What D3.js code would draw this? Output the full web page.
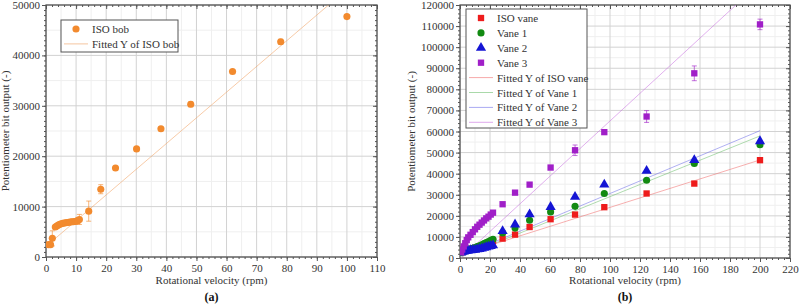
<!DOCTYPE html>
<html>
<head>
<meta charset="utf-8">
<script src="https://cdn.jsdelivr.net/npm/d3@7.8.5/dist/d3.min.js"></script>
<style>
  body { margin: 0; background: #fff; }
  svg { font-family: "Liberation Serif", "DejaVu Serif", serif; }
</style>
</head>
<body>
<svg id="chart" width="800" height="304"></svg>
<script>
// ---- panel (a): ISO bob ----
const bobRpm = [0.8, 1.5, 2.1, 3.1, 3.6, 4.1, 4.6, 5.1, 5.6, 6.1, 6.6, 7.1, 7.6, 8.1, 8.6, 9.1, 9.6, 10.1, 10.6, 11.1, 14.2, 18.2, 23.1, 30.1, 38.2, 48.1, 62, 78, 100]
const bobValue = [2450, 2450, 3700, 5950, 6150, 6350, 6500, 6600, 6700, 6750, 6800, 6850, 6900, 6950, 7000, 7000, 7050, 7100, 7250, 7450, 9100, 13450, 17650, 21450, 25450, 30300, 36800, 42700, 47700]
const bobErr = [300, 300, 1500, 300, 200, 200, 200, 200, 200, 200, 200, 200, 200, 200, 200, 200, 200, 300, 600, 1000, 2000, 900, 400, 400, 300, 500, 400, 500, 400]
const bobFit = {slope: 510, intercept: 2110}

const xTicksA = [0, 10, 20, 30, 40, 50, 60, 70, 80, 90, 100, 110]
const yTicksA = [0, 10000, 20000, 30000, 40000, 50000]

// ---- panel (b): vanes ----
const vaneRpm = [0.7, 1.5, 2.5, 3.5, 4.5, 5.5, 7, 8.5, 10, 11.5, 13, 14.5, 16, 17.5, 19, 20.5, 22, 28.4, 36.7, 46.4, 60.4, 76.7, 96.2, 124.4, 156.2, 200]
const isoVane = [2700, 3000, 3300, 3500, 3700, 3900, 4200, 4500, 4800, 5100, 5500, 5900, 6300, 6700, 7100, 7500, 8000, 9200, 11100, 14700, 18400, 20600, 24100, 30600, 35300, 46400]
const vane1 = [2800, 3100, 3400, 3600, 3800, 4000, 4300, 4600, 5000, 5400, 5800, 6300, 6800, 7300, 7800, 8400, 8900, 11900, 14200, 17900, 21800, 24500, 30600, 36900, 44800, 53700]
const vane2 = [2600, 2900, 3100, 3300, 3400, 3500, 3700, 3800, 3900, 4100, 4300, 4500, 4800, 5100, 5400, 5700, 6000, 12800, 15900, 20700, 24200, 29000, 34800, 41300, 46400, 55400]
const vane3 = [2800, 4000, 5500, 7000, 8500, 9800, 11000, 12300, 13600, 14800, 15800, 16800, 17800, 18800, 19600, 20600, 21500, 25500, 31000, 34800, 42900, 51100, 59700, 67100, 87600, 110800]
const vane3Err = [200, 200, 200, 200, 200, 200, 200, 200, 200, 200, 200, 200, 200, 200, 200, 200, 300, 500, 600, 600, 800, 2500, 1000, 2800, 3500, 2500]
const vaneFits = [
  {slope: 225, intercept: 1500},
  {slope: 288, intercept: 300},
  {slope: 298, intercept: 800},
  {slope: 655, intercept: -500}
]
const vaneNames = ["ISO vane", "Vane 1", "Vane 2", "Vane 3"]

const xTicksB = d3.range(0, 221, 20)
const yTicksB = d3.range(0, 120001, 10000)

const svg = d3.select("#chart")
const axisColor = "#555"

function drawPanel(opt) {
  const g = svg.append("g")
  const x = d3.scaleLinear().domain(opt.xDomain).range([opt.left, opt.right])
  const y = d3.scaleLinear().domain(opt.yDomain).range([opt.bottom, opt.top])

  // minor + major grid
  g.append("g").selectAll("line").data(opt.xMinorGrid).join("line")
    .attr("x1", d => x(d)).attr("x2", d => x(d)).attr("y1", opt.top).attr("y2", opt.bottom)
    .attr("stroke", "#efefef")
  g.append("g").selectAll("line").data(opt.yMinorGrid).join("line")
    .attr("y1", d => y(d)).attr("y2", d => y(d)).attr("x1", opt.left).attr("x2", opt.right)
    .attr("stroke", "#efefef")
  g.append("g").selectAll("line").data(opt.xTicks).join("line")
    .attr("x1", d => x(d)).attr("x2", d => x(d)).attr("y1", opt.top).attr("y2", opt.bottom)
    .attr("stroke", "#d2d2d2")
  g.append("g").selectAll("line").data(opt.yTicks).join("line")
    .attr("y1", d => y(d)).attr("y2", d => y(d)).attr("x1", opt.left).attr("x2", opt.right)
    .attr("stroke", "#d2d2d2")

  // axes on all four sides
  const xMinor = d3.range(opt.xDomain[0], opt.xDomain[1] + 1e-9, opt.xMinorStep)
  const yMinor = d3.range(opt.yDomain[0], opt.yDomain[1] + 1e-9, opt.yMinorStep)
  const styleAxis = a => {
    a.select(".domain").remove()
    a.selectAll("line").attr("stroke", axisColor)
    a.selectAll("text").attr("fill", "#333").style("font-size", "11px").style("font-family", "Liberation Serif, serif")
  }
  g.append("g").attr("transform", `translate(0,${opt.bottom})`)
    .call(d3.axisBottom(x).tickValues(opt.xTicks).tickSize(4).tickPadding(3).tickFormat(d3.format("d")))
    .call(styleAxis)
  g.append("g").attr("transform", `translate(0,${opt.bottom})`)
    .call(d3.axisBottom(x).tickValues(xMinor).tickSize(2).tickFormat(""))
    .call(styleAxis)
  g.append("g").attr("transform", `translate(${opt.left},0)`)
    .call(d3.axisLeft(y).tickValues(opt.yTicks).tickSize(4).tickPadding(2).tickFormat(d3.format("d")))
    .call(styleAxis)
  g.append("g").attr("transform", `translate(${opt.left},0)`)
    .call(d3.axisLeft(y).tickValues(yMinor).tickSize(2).tickFormat(""))
    .call(styleAxis)
  g.append("g").attr("transform", `translate(0,${opt.top})`)
    .call(d3.axisBottom(x).tickValues(opt.xTicks).tickSize(4).tickFormat(""))
    .call(styleAxis)
  g.append("g").attr("transform", `translate(0,${opt.top})`)
    .call(d3.axisBottom(x).tickValues(xMinor).tickSize(2).tickFormat(""))
    .call(styleAxis)
  g.append("g").attr("transform", `translate(${opt.right},0)`)
    .call(d3.axisLeft(y).tickValues(opt.yTicks).tickSize(4).tickFormat(""))
    .call(styleAxis)
  g.append("g").attr("transform", `translate(${opt.right},0)`)
    .call(d3.axisLeft(y).tickValues(yMinor).tickSize(2).tickFormat(""))
    .call(styleAxis)

  g.append("rect")
    .attr("x", opt.left).attr("y", opt.top)
    .attr("width", opt.right - opt.left).attr("height", opt.bottom - opt.top)
    .attr("fill", "none").attr("stroke", axisColor).attr("stroke-width", 1.3)

  // titles
  g.append("text")
    .attr("x", (opt.left + opt.right) / 2).attr("y", 284)
    .attr("text-anchor", "middle").attr("fill", "#333").style("font-size", "11px")
    .text("Rotational velocity (rpm)")
  g.append("text")
    .attr("transform", `translate(${opt.yTitleX},${(opt.top + opt.bottom) / 2}) rotate(-90)`)
    .attr("text-anchor", "middle").attr("fill", "#333").style("font-size", "11px")
    .text("Potentiometer bit output (-)")
  g.append("text")
    .attr("x", (opt.left + opt.right) / 2).attr("y", 301)
    .attr("text-anchor", "middle").attr("fill", "#111").attr("font-weight", "bold").style("font-size", "12px")
    .text(opt.panel)

  const plotArea = g.append("g")
  const clipId = "clip-" + opt.panel.replace(/\W/g, "")
  plotArea.append("clipPath").attr("id", clipId)
    .append("rect").attr("x", opt.left).attr("y", opt.top)
    .attr("width", opt.right - opt.left).attr("height", opt.bottom - opt.top)

  return {g, x, y, plot: plotArea.append("g").attr("clip-path", `url(#${clipId})`)}
}

function fitLine(p, xs, fit, color) {
  const ends = d3.extent(xs)
  p.plot.append("line")
    .attr("x1", p.x(ends[0])).attr("y1", p.y(fit.slope * ends[0] + fit.intercept))
    .attr("x2", p.x(ends[1])).attr("y2", p.y(fit.slope * ends[1] + fit.intercept))
    .attr("stroke", color).attr("stroke-width", 1).attr("stroke-opacity", 0.55)
}

function errorBars(p, xs, ys, errs, color) {
  const eg = p.plot.append("g").attr("stroke", color).attr("stroke-width", 0.8).attr("stroke-opacity", 0.8)
  xs.forEach((xv, i) => {
    const cx = p.x(xv), y0 = p.y(ys[i] - errs[i]), y1 = p.y(ys[i] + errs[i])
    eg.append("line").attr("x1", cx).attr("x2", cx).attr("y1", y0).attr("y2", y1)
    eg.append("line").attr("x1", cx - 2.5).attr("x2", cx + 2.5).attr("y1", y0).attr("y2", y0)
    eg.append("line").attr("x1", cx - 2.5).attr("x2", cx + 2.5).attr("y1", y1).attr("y2", y1)
  })
}

function markers(p, xs, ys, symbolType, size, color) {
  p.plot.append("g").selectAll("path").data(xs).join("path")
    .attr("transform", (d, i) => `translate(${p.x(d)},${p.y(ys[i])})`)
    .attr("d", d3.symbol().type(symbolType).size(size))
    .attr("fill", color)
}

function legend(g, x0, y0, w, h, items) {
  g.append("rect").attr("x", x0).attr("y", y0).attr("width", w).attr("height", h)
    .attr("fill", "#fff").attr("stroke", axisColor).attr("stroke-width", 1)
  items.forEach((it, i) => {
    const cy = y0 + 9 + i * 14.9
    if (it.line) {
      g.append("line").attr("x1", x0 + 3).attr("x2", x0 + 27).attr("y1", cy).attr("y2", cy)
        .attr("stroke", it.color).attr("stroke-opacity", 0.6)
    } else {
      g.append("path").attr("transform", `translate(${x0 + 15},${cy})`)
        .attr("d", d3.symbol().type(it.symbol).size(it.size)).attr("fill", it.color)
    }
    g.append("text").attr("x", x0 + 31).attr("y", cy + 4)
      .attr("fill", "#333").style("font-size", "11px").text(it.label)
  })
}

// ---- draw (a) ----
const orange = "#f28a2e"
const pA = drawPanel({
  panel: "(a)", left: 46, right: 377, top: 5, bottom: 257,
  xDomain: [0, 110], yDomain: [0, 50000],
  xTicks: xTicksA, yTicks: yTicksA,
  xMinorGrid: d3.range(5, 110, 10), yMinorGrid: d3.range(5000, 50000, 10000),
  xMinorStep: 2, yMinorStep: 1000, yTitleX: 9
})
fitLine(pA, bobRpm, bobFit, "#f0a060")
errorBars(pA, bobRpm, bobValue, bobErr, orange)
markers(pA, bobRpm, bobValue, d3.symbolCircle, 40, orange)
legend(pA.g, 61, 20, 117, 32, [
  {label: "ISO bob", symbol: d3.symbolCircle, size: 40, color: orange},
  {label: "Fitted Y of ISO bob", line: true, color: "#f0a060"}
])

// ---- draw (b) ----
const vaneColors = ["#ee1c1c", "#128a12", "#1515d4", "#a01fc8"]
const fitColors = ["#f07070", "#70c070", "#7070e8", "#c870e0"]
const vaneSymbols = [d3.symbolSquare, d3.symbolCircle, d3.symbolTriangle, d3.symbolSquare]
const vaneSizes = [40, 40, 45, 40]
const pB = drawPanel({
  panel: "(b)", left: 460, right: 790, top: 5, bottom: 258,
  xDomain: [0, 220], yDomain: [0, 120000],
  xTicks: xTicksB, yTicks: yTicksB,
  xMinorGrid: d3.range(10, 220, 20), yMinorGrid: d3.range(5000, 120000, 10000),
  xMinorStep: 4, yMinorStep: 2000, yTitleX: 415
})
const vaneSeries = [isoVane, vane1, vane2, vane3]
vaneSeries.forEach((s, i) => fitLine(pB, vaneRpm, vaneFits[i], fitColors[i]))
errorBars(pB, vaneRpm, vane3, vane3Err, vaneColors[3])
vaneSeries.forEach((s, i) => markers(pB, vaneRpm, s, vaneSymbols[i], vaneSizes[i], vaneColors[i]))
legend(pB.g, 466, 9, 121, 119, [
  ...vaneNames.map((n, i) => ({label: n, symbol: vaneSymbols[i], size: vaneSizes[i], color: vaneColors[i]})),
  ...vaneNames.map((n, i) => ({label: "Fitted Y of " + n, line: true, color: fitColors[i]}))
])
</script>
</body>
</html>
